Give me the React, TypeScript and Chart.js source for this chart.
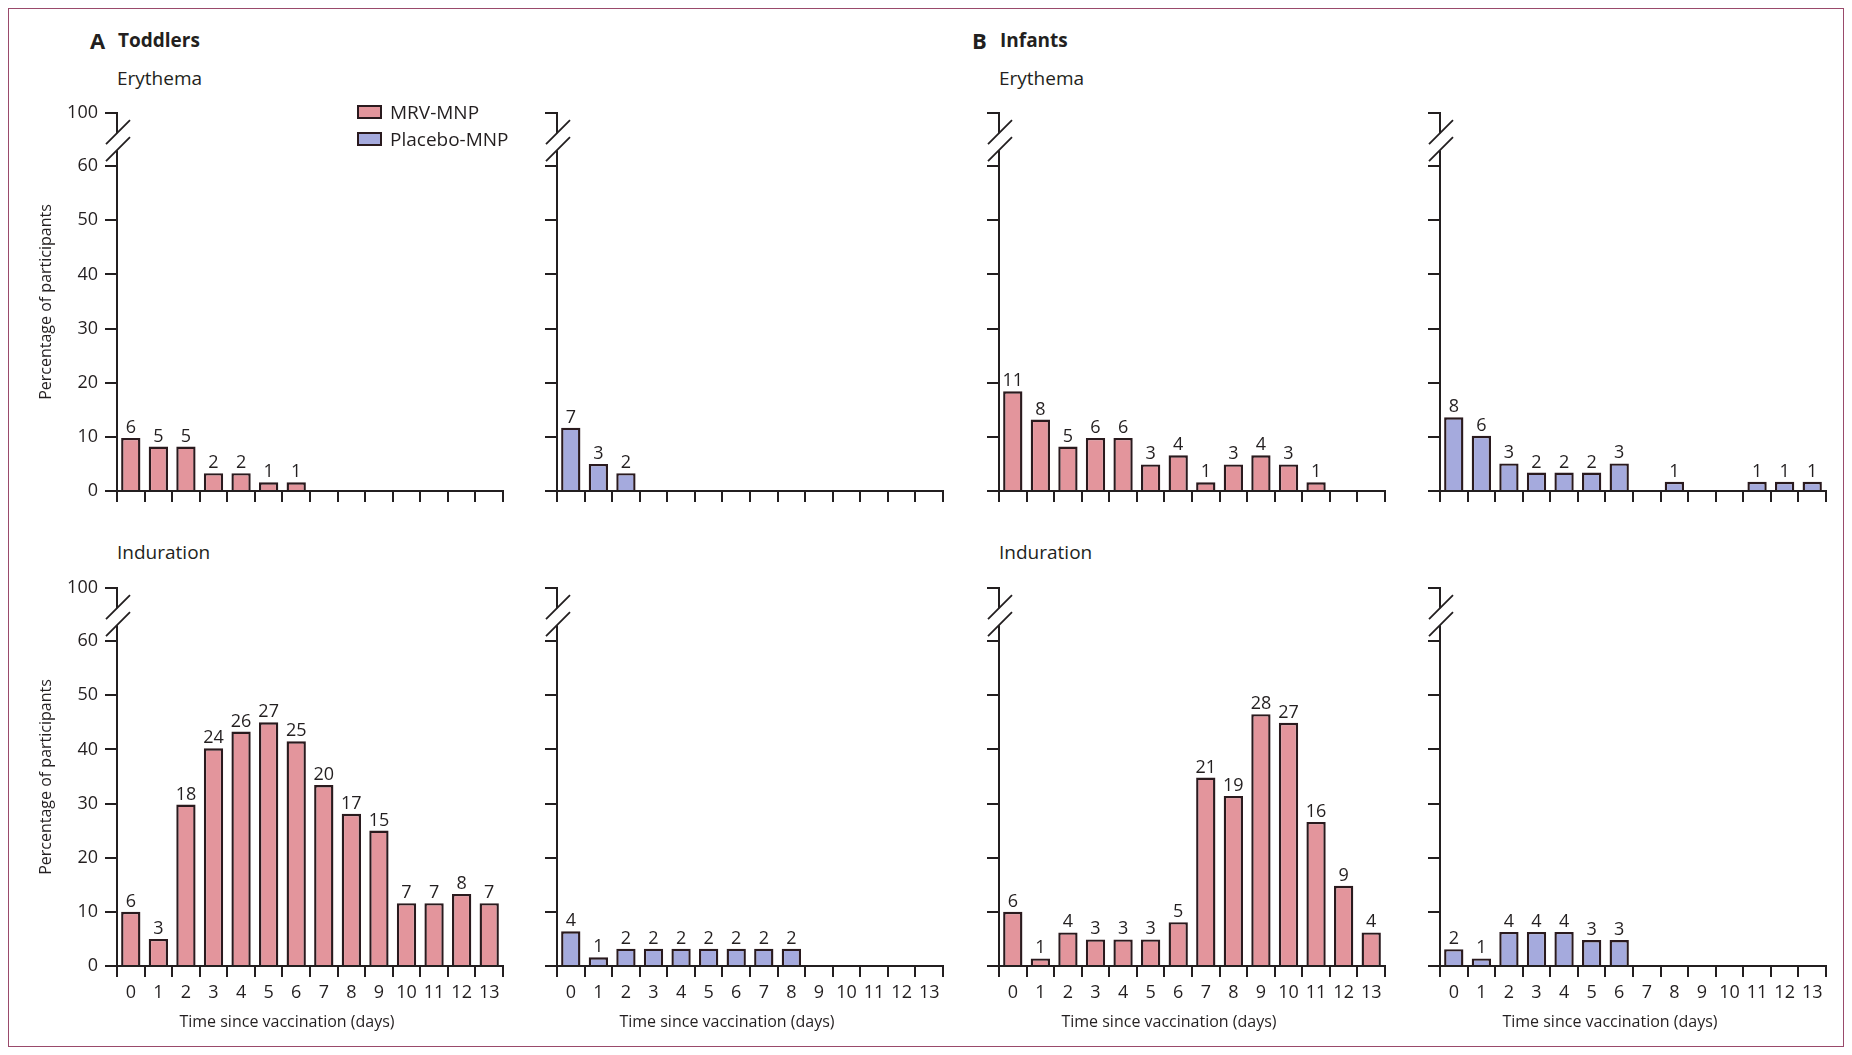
import React, { useEffect, useRef } from 'react';
import { Chart, registerables } from 'chart.js';

Chart.register(...registerables);

// ---------- data ----------
const DAYS = ['0', '1', '2', '3', '4', '5', '6', '7', '8', '9', '10', '11', '12', '13'];
const Y_TICKS = [0, 10, 20, 30, 40, 50, 60];
const Y_BREAK_VALUE = 69.8; // position on the compressed scale where "100" sits
const Y_TOP_LABEL = '100';

const SERIES_MRV = 'MRV-MNP';
const SERIES_PLACEBO = 'Placebo-MNP';

// Toddlers – erythema
const TOD_ERY_MRV_PCT = [9.8, 8.2, 8.2, 3.3, 3.3, 1.6, 1.6, null, null, null, null, null, null, null];
const TOD_ERY_MRV_N = [6, 5, 5, 2, 2, 1, 1, null, null, null, null, null, null, null];
const TOD_ERY_PLA_PCT = [11.7, 5.0, 3.3, null, null, null, null, null, null, null, null, null, null, null];
const TOD_ERY_PLA_N = [7, 3, 2, null, null, null, null, null, null, null, null, null, null, null];
// Toddlers – induration
const TOD_IND_MRV_PCT = [10, 5, 29.8, 40.2, 43.3, 45, 41.5, 33.4, 28.1, 25, 11.6, 11.6, 13.3, 11.6];
const TOD_IND_MRV_N = [6, 3, 18, 24, 26, 27, 25, 20, 17, 15, 7, 7, 8, 7];
const TOD_IND_PLA_PCT = [6.4, 1.6, 3.2, 3.2, 3.2, 3.2, 3.2, 3.2, 3.2, null, null, null, null, null];
const TOD_IND_PLA_N = [4, 1, 2, 2, 2, 2, 2, 2, 2, null, null, null, null, null];
// Infants – erythema
const INF_ERY_MRV_PCT = [18.4, 13.2, 8.2, 9.8, 9.8, 4.9, 6.6, 1.6, 4.9, 6.6, 4.9, 1.6, null, null];
const INF_ERY_MRV_N = [11, 8, 5, 6, 6, 3, 4, 1, 3, 4, 3, 1, null, null];
const INF_ERY_PLA_PCT = [13.6, 10.2, 5.1, 3.4, 3.4, 3.4, 5.1, null, 1.7, null, null, 1.7, 1.7, 1.7];
const INF_ERY_PLA_N = [8, 6, 3, 2, 2, 2, 3, null, 1, null, null, 1, 1, 1];
// Infants – induration
const INF_IND_MRV_PCT = [10, 1.4, 6.2, 4.9, 4.9, 4.9, 8.1, 34.8, 31.4, 46.5, 44.9, 26.6, 14.8, 6.2];
const INF_IND_MRV_N = [6, 1, 4, 3, 3, 3, 5, 21, 19, 28, 27, 16, 9, 4];
const INF_IND_PLA_PCT = [3.1, 1.4, 6.3, 6.3, 6.3, 4.8, 4.8, null, null, null, null, null, null, null];
const INF_IND_PLA_N = [2, 1, 4, 4, 4, 3, 3, null, null, null, null, null, null, null];

const TITLE_TODDLERS = 'Toddlers';
const TITLE_INFANTS = 'Infants';
const LETTER_A = 'A';
const LETTER_B = 'B';
const LABEL_ERY = 'Erythema';
const LABEL_IND = 'Induration';
const Y_TITLE = 'Percentage of participants';
const X_TITLE = 'Time since vaccination (days)';

// ---------- styles / layout ----------
const INK = '#231f20';
const BAR_EDGE = '#2a1a1e';
const PINK = '#e3959c';
const BLUE = '#a5aadd';
const FRAME = '#9a4a6b';
const FONT = "'Open Sans', sans-serif";

const ORIGIN = 9; // inner origin of the framed container in page px
const AXIS_X = [117, 557, 999, 1440];
const ROW_TOP = [113, 588]; // pixel of the "100" tick
const PLOT_W = 386;
const PLOT_H = 378;
const LEFT_SPACE = 100;
const PAD_TOP = 40;
const PAD_RIGHT = 14;
const BOTTOM_SPACE = 72;
const CANVAS_W = LEFT_SPACE + PLOT_W + PAD_RIGHT;
const CANVAS_H = PAD_TOP + PLOT_H + BOTTOM_SPACE;

Chart.defaults.font.family = FONT;
Chart.defaults.color = INK;

// broken y axis
const brokenAxis = {
  id: 'brokenAxis',
  afterDraw(chart: any) {
    const y = chart.scales.y;
    const ctx = chart.ctx as CanvasRenderingContext2D;
    const x = chart.chartArea.left;
    const pTop = y.getPixelForValue(Y_BREAK_VALUE);
    const p60 = y.getPixelForValue(60);
    const p0 = y.getPixelForValue(0);
    const c1 = pTop + 0.38 * (p60 - pTop);
    const c2 = pTop + 0.7 * (p60 - pTop);
    ctx.save();
    ctx.strokeStyle = INK;
    ctx.lineWidth = 2;
    ctx.beginPath();
    ctx.moveTo(x, p0 + 1);
    ctx.lineTo(x, c2);
    ctx.moveTo(x, c1);
    ctx.lineTo(x, pTop - 1);
    ctx.stroke();
    ctx.lineWidth = 1.8;
    ctx.beginPath();
    ctx.moveTo(x - 11, c1 + 11);
    ctx.lineTo(x + 13, c1 - 13);
    ctx.moveTo(x - 11, c2 + 11);
    ctx.lineTo(x + 13, c2 - 13);
    ctx.stroke();
    ctx.restore();
  },
};

const countLabels = {
  id: 'countLabels',
  afterDatasetsDraw(chart: any, _args: any, opts: any) {
    const counts: (number | null)[] = opts.counts || [];
    const meta = chart.getDatasetMeta(0);
    const ctx = chart.ctx as CanvasRenderingContext2D;
    ctx.save();
    ctx.font = `18px ${FONT}`;
    ctx.fillStyle = INK;
    ctx.textAlign = 'center';
    ctx.textBaseline = 'alphabetic';
    meta.data.forEach((el: any, i: number) => {
      const c = counts[i];
      if (c == null) return;
      ctx.fillText(String(c), el.x, el.y - 5);
    });
    ctx.restore();
  },
};

const xTitle = {
  id: 'xTitle',
  afterDraw(chart: any, _args: any, opts: any) {
    if (!opts.text) return;
    const ctx = chart.ctx as CanvasRenderingContext2D;
    const { left, bottom } = chart.chartArea;
    ctx.save();
    ctx.font = `16px ${FONT}`;
    ctx.fillStyle = INK;
    ctx.textAlign = 'center';
    ctx.textBaseline = 'middle';
    ctx.fillText(opts.text, left + 170, bottom + 56);
    ctx.restore();
  },
};

type PanelSpec = {
  col: number;
  row: number;
  label: string;
  values: (number | null)[];
  counts: (number | null)[];
  color: string;
};

const PANELS: PanelSpec[] = [
  { col: 0, row: 0, label: SERIES_MRV, values: TOD_ERY_MRV_PCT, counts: TOD_ERY_MRV_N, color: PINK },
  { col: 1, row: 0, label: SERIES_PLACEBO, values: TOD_ERY_PLA_PCT, counts: TOD_ERY_PLA_N, color: BLUE },
  { col: 2, row: 0, label: SERIES_MRV, values: INF_ERY_MRV_PCT, counts: INF_ERY_MRV_N, color: PINK },
  { col: 3, row: 0, label: SERIES_PLACEBO, values: INF_ERY_PLA_PCT, counts: INF_ERY_PLA_N, color: BLUE },
  { col: 0, row: 1, label: SERIES_MRV, values: TOD_IND_MRV_PCT, counts: TOD_IND_MRV_N, color: PINK },
  { col: 1, row: 1, label: SERIES_PLACEBO, values: TOD_IND_PLA_PCT, counts: TOD_IND_PLA_N, color: BLUE },
  { col: 2, row: 1, label: SERIES_MRV, values: INF_IND_MRV_PCT, counts: INF_IND_MRV_N, color: PINK },
  { col: 3, row: 1, label: SERIES_PLACEBO, values: INF_IND_PLA_PCT, counts: INF_IND_PLA_N, color: BLUE },
];

function Panel({ spec }: { spec: PanelSpec }) {
  const ref = useRef<HTMLCanvasElement>(null);
  const showY = spec.col === 0;
  const showX = spec.row === 1;
  useEffect(() => {
    if (!ref.current) return;
    const chart = new Chart(ref.current, {
      type: 'bar',
      data: {
        labels: DAYS,
        datasets: [
          {
            label: spec.label,
            data: spec.values as any,
            backgroundColor: spec.color,
            borderColor: BAR_EDGE,
            borderWidth: 2.4,
            borderSkipped: 'start',
            barPercentage: 0.7,
            categoryPercentage: 1,
          },
        ],
      },
      options: {
        responsive: false,
        animation: false,
        events: [],
        layout: { padding: { left: 0, top: PAD_TOP, right: PAD_RIGHT, bottom: 0 } },
        plugins: {
          legend: { display: false },
          tooltip: { enabled: false },
          countLabels: { counts: spec.counts },
          xTitle: { text: showX ? X_TITLE : '' },
        } as any,
        scales: {
          x: {
            type: 'category',
            offset: true,
            grid: {
              offset: true,
              drawOnChartArea: false,
              drawTicks: true,
              tickLength: 11,
              color: INK,
              lineWidth: 2,
            },
            border: { display: true, color: INK, width: 2 },
            ticks: {
              display: showX,
              padding: 5,
              autoSkip: false,
              maxRotation: 0,
              color: INK,
              font: { size: 18 },
            },
            afterFit: (s: any) => {
              s.height = BOTTOM_SPACE;
            },
          },
          y: {
            type: 'linear',
            min: 0,
            max: Y_BREAK_VALUE,
            afterBuildTicks: (s: any) => {
              s.ticks = [...Y_TICKS.map((v) => ({ value: v })), { value: Y_BREAK_VALUE }];
            },
            grid: {
              drawOnChartArea: false,
              drawTicks: true,
              tickLength: 12,
              color: INK,
              lineWidth: 2,
            },
            border: { display: false },
            ticks: {
              display: showY,
              padding: 7,
              color: INK,
              font: { size: 18 },
              callback: (v: any) => (v === Y_BREAK_VALUE ? Y_TOP_LABEL : String(v)),
            },
            title: {
              display: showY,
              text: Y_TITLE,
              color: INK,
              font: { size: 16 },
              padding: { top: 20, bottom: 0 },
            },
            afterFit: (s: any) => {
              s.width = LEFT_SPACE;
            },
          },
        },
      } as any,
      plugins: [brokenAxis, countLabels, xTitle],
    });
    return () => chart.destroy();
  }, []);
  return (
    <canvas
      ref={ref}
      width={CANVAS_W}
      height={CANVAS_H}
      style={{
        position: 'absolute',
        left: AXIS_X[spec.col] - LEFT_SPACE - ORIGIN,
        top: ROW_TOP[spec.row] - PAD_TOP - ORIGIN,
        width: CANVAS_W,
        height: CANVAS_H,
      }}
    />
  );
}

function Text({ x, y, size, bold, children }: { x: number; y: number; size: number; bold?: boolean; children: React.ReactNode }) {
  return (
    <div
      style={{
        position: 'absolute',
        left: x - ORIGIN,
        top: y - ORIGIN,
        transform: 'translateY(-50%)',
        fontFamily: FONT,
        fontSize: size,
        fontWeight: bold ? 700 : 400,
        lineHeight: 1,
        color: INK,
        whiteSpace: 'nowrap',
      }}
    >
      {children}
    </div>
  );
}

function LegendItem({ y, color, label }: { y: number; color: string; label: string }) {
  return (
    <>
      <div
        style={{
          position: 'absolute',
          left: 357 - ORIGIN,
          top: y - 7 - ORIGIN,
          width: 25,
          height: 14,
          boxSizing: 'border-box',
          border: `2px solid ${BAR_EDGE}`,
          background: color,
        }}
      />
      <Text x={390} y={y} size={19}>
        {label}
      </Text>
    </>
  );
}

export default function App() {
  return (
    <div
      style={{
        position: 'relative',
        width: 1836,
        height: 1039,
        boxSizing: 'border-box',
        border: `1px solid ${FRAME}`,
        background: '#fff',
        overflow: 'hidden',
      }}
    >
      <Text x={90} y={40} size={22} bold>
        {LETTER_A}
      </Text>
      <Text x={118} y={40} size={19} bold>
        {TITLE_TODDLERS}
      </Text>
      <Text x={972} y={40} size={22} bold>
        {LETTER_B}
      </Text>
      <Text x={1000} y={40} size={19} bold>
        {TITLE_INFANTS}
      </Text>
      <Text x={117} y={78} size={19}>
        {LABEL_ERY}
      </Text>
      <Text x={999} y={78} size={19}>
        {LABEL_ERY}
      </Text>
      <Text x={117} y={552} size={19}>
        {LABEL_IND}
      </Text>
      <Text x={999} y={552} size={19}>
        {LABEL_IND}
      </Text>
      {PANELS.map((p, i) => (
        <Panel key={i} spec={p} />
      ))}
      <LegendItem y={112} color={PINK} label={SERIES_MRV} />
      <LegendItem y={139} color={BLUE} label={SERIES_PLACEBO} />
    </div>
  );
}
